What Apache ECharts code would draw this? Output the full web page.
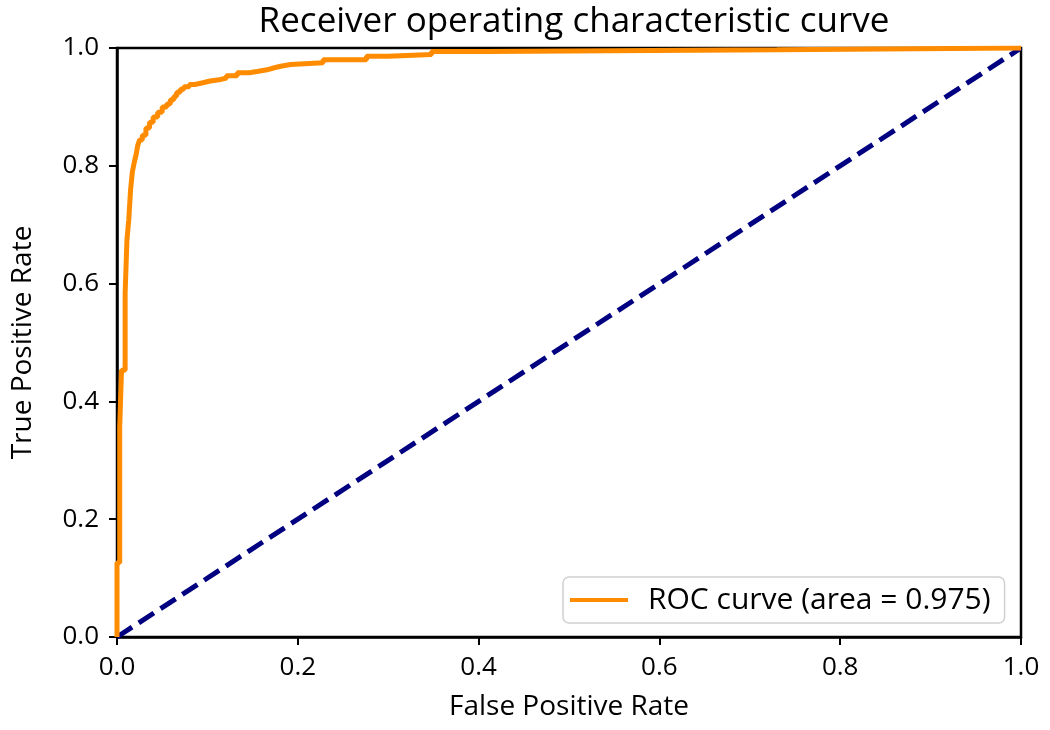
<!DOCTYPE html>
<html>
<head>
<meta charset="utf-8">
<script src="https://cdn.jsdelivr.net/npm/echarts@6/dist/echarts.min.js"></script>
<style>html,body{margin:0;padding:0;background:#fff;}#c{width:1050px;height:730px;}</style>
</head>
<body>
<div id="c"></div>
<script>
const titleText = 'Receiver operating characteristic curve';
const xName = 'False Positive Rate';
const yName = 'True Positive Rate';
const rocLabel = 'ROC curve (area = 0.975)';
const fpr = [0, 0, 0.003, 0.003, 0.005, 0.005, 0.009, 0.009, 0.011, 0.011, 0.013, 0.013, 0.015, 0.015, 0.017, 0.017, 0.019, 0.019, 0.021, 0.021, 0.023, 0.023, 0.025, 0.025, 0.028, 0.028, 0.032, 0.032, 0.036, 0.036, 0.040, 0.040, 0.045, 0.045, 0.050, 0.050, 0.055, 0.055, 0.059, 0.059, 0.063, 0.063, 0.066, 0.066, 0.070, 0.070, 0.074, 0.074, 0.080, 0.080, 0.086, 0.086, 0.095, 0.095, 0.103, 0.103, 0.113, 0.113, 0.121, 0.121, 0.133, 0.133, 0.146, 0.146, 0.155, 0.155, 0.166, 0.166, 0.173, 0.173, 0.181, 0.181, 0.192, 0.192, 0.228, 0.228, 0.276, 0.276, 0.300, 0.300, 0.348, 0.348, 0.407, 0.407, 0.730, 0.730, 1.0];
const tpr = [0, 0.126, 0.126, 0.357, 0.357, 0.453, 0.453, 0.584, 0.584, 0.674, 0.674, 0.708, 0.708, 0.759, 0.759, 0.790, 0.790, 0.805, 0.805, 0.818, 0.818, 0.835, 0.835, 0.844, 0.844, 0.852, 0.852, 0.864, 0.864, 0.874, 0.874, 0.883, 0.883, 0.891, 0.891, 0.900, 0.900, 0.905, 0.905, 0.912, 0.912, 0.918, 0.918, 0.925, 0.925, 0.930, 0.930, 0.934, 0.934, 0.938, 0.938, 0.941, 0.941, 0.944, 0.944, 0.946, 0.946, 0.949, 0.949, 0.953, 0.953, 0.958, 0.958, 0.960, 0.960, 0.963, 0.963, 0.966, 0.966, 0.969, 0.969, 0.972, 0.972, 0.975, 0.975, 0.980, 0.980, 0.986, 0.986, 0.989, 0.989, 0.994, 0.994, 0.997, 0.997, 1.0, 1.0];
const diagX = [0, 1];
const diagY = [0, 1];

const font = 'Open Sans';
const chart = echarts.init(document.getElementById('c'), null, {renderer: 'canvas'});
const axisCommon = {
  type: 'value', min: 0, max: 1, interval: 0.2,
  axisLine: {show: true, onZero: false, lineStyle: {color: '#000', width: 2.5}},
  axisTick: {show: true, inside: false, length: 8, lineStyle: {color: '#000', width: 2}},
  axisLabel: {color: '#000', fontFamily: font, fontSize: 26, formatter: v => v.toFixed(1)},
  splitLine: {show: false},
  nameLocation: 'middle',
  nameTextStyle: {color: '#000', fontFamily: font, fontSize: 28}
};
chart.setOption({
  animation: false,
  backgroundColor: '#fff',
  title: {text: titleText, left: 569, top: 0, textAlign: 'center',
    textStyle: {fontFamily: font, fontSize: 35, fontWeight: 'normal', color: '#000'}},
  grid: {left: 117, right: 29, top: 48, bottom: 93, show: true, borderColor: '#000', borderWidth: 2.5},
  legend: {
    data: [rocLabel], left: 563, top: 577, orient: 'vertical',
    icon: 'rect', itemWidth: 58, itemHeight: 4,
    padding: [8, 14, 8, 7], borderColor: '#d0d0d0', borderWidth: 1.5, borderRadius: 6,
    backgroundColor: 'rgba(255,255,255,0.8)',
    textStyle: {fontFamily: font, fontSize: 30, color: '#000', padding: [0, 0, 0, 15]}
  },
  xAxis: Object.assign({}, axisCommon, {name: xName, nameGap: 56,
    axisLabel: Object.assign({}, axisCommon.axisLabel, {margin: 18})}),
  yAxis: Object.assign({}, axisCommon, {name: yName, nameGap: 80,
    axisLabel: Object.assign({}, axisCommon.axisLabel, {margin: 18})}),
  series: [
    {name: rocLabel, type: 'line', showSymbol: false, symbol: 'none',
     data: fpr.map((x, i) => [x, tpr[i]]), lineStyle: {color: '#FF8C00', width: 5}, itemStyle: {color: '#FF8C00'}, z: 3},
    {name: 'diag', type: 'line', showSymbol: false, symbol: 'none',
     data: diagX.map((x, i) => [x, diagY[i]]), lineStyle: {color: '#000080', width: 5, type: [18, 8]}, z: 2}
  ]
});
</script>
</body>
</html>
